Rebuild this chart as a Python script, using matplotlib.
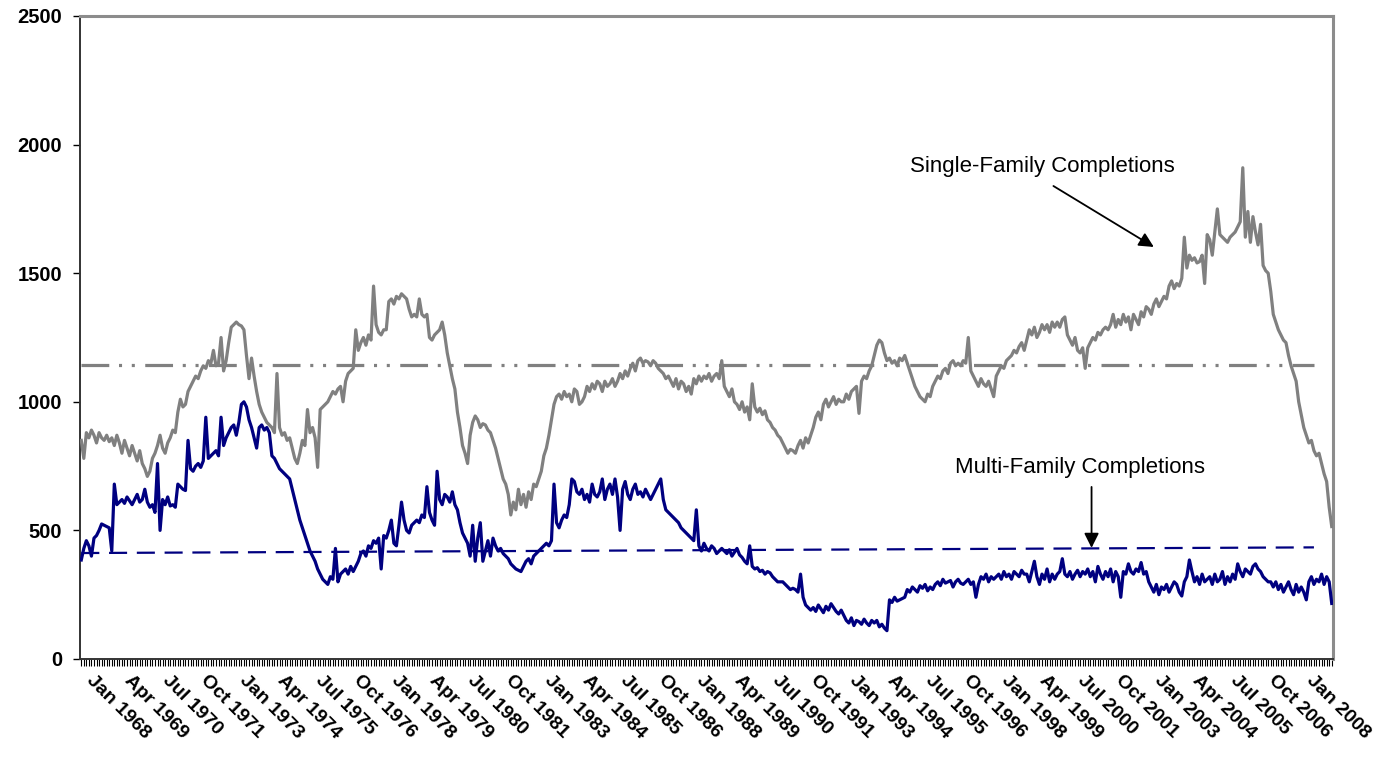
import matplotlib
matplotlib.use("Agg")
import matplotlib.pyplot as plt
import matplotlib.transforms as mtransforms
import numpy as np

plt.rcParams['font.family'] = ['Liberation Sans', 'DejaVu Sans']
plt.rcParams['lines.scale_dashes'] = False

# Monthly completions (thousands, SAAR), Jan 1968 .. Jan 2009 (one row per year)
single_family = [
    850, 780, 880, 860, 890, 870, 840, 880, 860, 850, 870, 845,        # 1968
    860, 830, 870, 840, 800, 850, 820, 790, 830, 800, 770, 810,        # 1969
    760, 740, 710, 730, 780, 800, 830, 870, 820, 800, 840, 860,        # 1970
    890, 880, 960, 1010, 980, 990, 1040, 1060, 1080, 1100, 1090, 1120, # 1971
    1140, 1130, 1160, 1150, 1200, 1140, 1150, 1250, 1120, 1160, 1230, 1290,  # 1972
    1300, 1310, 1300, 1295, 1280, 1180, 1090, 1170, 1100, 1040, 990, 960,    # 1973
    940, 920, 910, 900, 880, 1110, 900, 870, 880, 850, 860, 820,       # 1974
    780, 760, 800, 850, 830, 970, 880, 900, 860, 745, 970, 980,        # 1975
    990, 1000, 1020, 1040, 1030, 1050, 1060, 1000, 1080, 1110, 1120, 1130,   # 1976
    1280, 1200, 1230, 1250, 1220, 1260, 1240, 1450, 1300, 1270, 1260, 1280,  # 1977
    1280, 1390, 1400, 1380, 1410, 1400, 1420, 1410, 1400, 1360, 1330, 1340,  # 1978
    1330, 1400, 1340, 1330, 1340, 1250, 1240, 1260, 1270, 1280, 1310, 1260,  # 1979
    1190, 1140, 1090, 1050, 960, 900, 830, 800, 760, 870, 920, 945,    # 1980
    930, 900, 915, 910, 890, 880, 850, 820, 780, 740, 700, 680,        # 1981
    640, 560, 610, 580, 660, 600, 640, 590, 650, 620, 680, 670,        # 1982
    700, 730, 790, 820, 870, 930, 990, 1020, 1030, 1010, 1040, 1020,   # 1983
    1030, 1000, 1050, 1040, 990, 1000, 1020, 1060, 1040, 1070, 1050, 1080,   # 1984
    1070, 1040, 1080, 1060, 1070, 1090, 1060, 1080, 1110, 1090, 1120, 1100,  # 1985
    1130, 1150, 1120, 1160, 1170, 1150, 1160, 1155, 1140, 1160, 1150, 1130,  # 1986
    1120, 1110, 1090, 1100, 1080, 1060, 1090, 1050, 1080, 1070, 1040, 1060,  # 1987
    1030, 1090, 1070, 1100, 1080, 1100, 1090, 1110, 1080, 1100, 1110, 1090,  # 1988
    1160, 1060, 1040, 1020, 1050, 1000, 990, 970, 1000, 960, 980, 930,       # 1989
    1070, 980, 960, 975, 950, 965, 930, 920, 900, 890, 870, 860,       # 1990
    840, 820, 800, 815, 810, 800, 830, 850, 820, 860, 840, 870,        # 1991
    900, 940, 960, 930, 990, 1010, 980, 1000, 1020, 990, 1010, 1000,   # 1992
    1000, 1030, 1010, 1040, 1050, 1060, 955, 1080, 1100, 1090, 1120, 1140,   # 1993
    1180, 1220, 1240, 1230, 1190, 1160, 1170, 1150, 1160, 1140, 1170, 1160,  # 1994
    1180, 1150, 1120, 1090, 1060, 1040, 1020, 1010, 1000, 1030, 1020, 1060,  # 1995
    1080, 1100, 1090, 1120, 1130, 1110, 1150, 1160, 1140, 1150, 1140, 1160,  # 1996
    1150, 1250, 1120, 1100, 1080, 1060, 1090, 1070, 1060, 1080, 1050, 1020,  # 1997
    1100, 1120, 1140, 1130, 1160, 1170, 1180, 1200, 1190, 1215, 1230, 1200,  # 1998
    1240, 1280, 1260, 1290, 1250, 1270, 1300, 1280, 1300, 1270, 1310, 1290,  # 1999
    1310, 1290, 1320, 1330, 1260, 1240, 1220, 1250, 1200, 1190, 1210, 1130,  # 2000
    1210, 1230, 1250, 1240, 1270, 1260, 1280, 1290, 1280, 1300, 1340, 1290,  # 2001
    1320, 1300, 1340, 1310, 1330, 1280, 1340, 1320, 1300, 1350, 1330, 1370,  # 2002
    1360, 1340, 1380, 1400, 1370, 1390, 1410, 1400, 1450, 1470, 1440, 1460,  # 2003
    1450, 1480, 1640, 1520, 1570, 1550, 1560, 1540, 1545, 1570, 1460, 1650,  # 2004
    1630, 1570, 1660, 1750, 1650, 1640, 1630, 1620, 1640, 1650, 1660, 1680,  # 2005
    1700, 1910, 1640, 1740, 1620, 1720, 1660, 1610, 1690, 1530, 1510, 1500,  # 2006
    1430, 1340, 1310, 1280, 1260, 1240, 1230, 1180, 1140, 1110, 1080, 1000,  # 2007
    950, 900, 870, 840, 850, 810, 790, 800, 760, 720, 690, 590,        # 2008
    515,                                                               # Jan 2009
]

multi_family = [
    385, 430, 460, 440, 400, 470, 480, 500, 525, 520, 515, 510,        # 1968
    420, 680, 600, 610, 620, 605, 630, 615, 600, 620, 640, 610,        # 1969
    620, 660, 610, 590, 600, 570, 760, 500, 620, 600, 630, 595,        # 1970
    600, 590, 680, 670, 660, 655, 850, 740, 730, 750, 760, 745,        # 1971
    770, 940, 780, 790, 800, 810, 790, 940, 830, 860, 880, 900,        # 1972
    910, 870, 920, 990, 1000, 980, 930, 900, 860, 820, 900, 910,       # 1973
    890, 900, 880, 790, 780, 760, 740, 730, 720, 710, 700, 660,        # 1974
    620, 580, 540, 510, 480, 450, 420, 400, 380, 350, 330, 310,        # 1975
    300, 290, 320, 310, 430, 300, 330, 340, 350, 330, 360, 340,        # 1976
    360, 380, 410, 420, 400, 440, 430, 460, 450, 470, 350, 480,        # 1977
    470, 500, 540, 450, 440, 520, 610, 540, 500, 490, 520, 530,        # 1978
    540, 530, 560, 550, 670, 570, 540, 520, 730, 620, 600, 640,        # 1979
    630, 610, 650, 600, 580, 530, 490, 470, 450, 400, 520, 380,        # 1980
    470, 530, 380, 420, 460, 400, 470, 440, 420, 430, 410, 400,        # 1981
    390, 370, 360, 350, 345, 340, 360, 380, 390, 370, 400, 410,        # 1982
    420, 430, 440, 450, 440, 460, 680, 530, 510, 540, 560, 550,        # 1983
    600, 700, 690, 650, 640, 660, 620, 640, 610, 680, 640, 630,        # 1984
    650, 700, 620, 660, 680, 640, 700, 630, 500, 660, 690, 640,        # 1985
    620, 660, 680, 640, 650, 630, 660, 640, 620, 640, 660, 680,        # 1986
    700, 620, 580, 570, 560, 550, 540, 530, 510, 500, 490, 480,        # 1987
    470, 460, 580, 440, 420, 450, 430, 420, 440, 430, 410, 420,        # 1988
    430, 420, 410, 425, 400, 415, 430, 405, 395, 380, 370, 440,        # 1989
    360, 350, 355, 340, 345, 330, 340, 335, 320, 310, 300, 300,        # 1990
    300, 290, 280, 270, 275, 270, 260, 330, 240, 210, 200, 190,        # 1991
    200, 185, 210, 195, 180, 205, 190, 215, 200, 185, 175, 190,        # 1992
    170, 150, 140, 160, 130, 150, 145, 135, 155, 140, 130, 150,        # 1993
    140, 150, 125, 135, 120, 110, 230, 220, 240, 225, 230, 235,        # 1994
    240, 270, 260, 280, 270, 260, 285, 275, 290, 265, 280, 270,        # 1995
    290, 300, 285, 310, 295, 300, 305, 280, 300, 310, 295, 290,        # 1996
    300, 310, 290, 300, 240, 290, 320, 310, 330, 300, 320, 310,        # 1997
    320, 330, 310, 340, 320, 330, 310, 340, 330, 320, 345, 330,        # 1998
    330, 300, 340, 380, 320, 290, 330, 310, 350, 300, 330, 310,        # 1999
    330, 340, 390, 330, 320, 340, 310, 330, 345, 320, 340, 330,        # 2000
    350, 320, 340, 300, 360, 330, 310, 340, 320, 350, 300, 340,        # 2001
    320, 240, 340, 330, 370, 340, 330, 350, 340, 375, 330, 340,        # 2002
    300, 280, 260, 290, 250, 280, 270, 290, 260, 280, 300, 290,        # 2003
    260, 245, 300, 320, 385, 340, 300, 320, 290, 330, 300, 310,        # 2004
    320, 290, 330, 300, 310, 340, 290, 320, 300, 330, 310, 370,        # 2005
    340, 320, 350, 340, 330, 360, 370, 350, 340, 320, 310, 300,        # 2006
    300, 280, 300, 270, 290, 260, 280, 300, 270, 250, 290, 260,        # 2007
    280, 260, 230, 300, 320, 290, 310, 300, 330, 290, 320, 300,        # 2008
    216,                                                               # Jan 2009
]

# Reference lines (start value, end value)
sf_average = [1143, 1143]
mf_average = [412, 434]

tick_labels = [
    "Jan 1968", "Apr 1969", "Jul 1970", "Oct 1971", "Jan 1973", "Apr 1974",
    "Jul 1975", "Oct 1976", "Jan 1978", "Apr 1979", "Jul 1980", "Oct 1981",
    "Jan 1983", "Apr 1984", "Jul 1985", "Oct 1986", "Jan 1988", "Apr 1989",
    "Jul 1990", "Oct 1991", "Jan 1993", "Apr 1994", "Jul 1995", "Oct 1996",
    "Jan 1998", "Apr 1999", "Jul 2000", "Oct 2001", "Jan 2003", "Apr 2004",
    "Jul 2005", "Oct 2006", "Jan 2008",
]

n = len(single_family)
x = np.arange(n)

fig = plt.figure(figsize=(13.8, 7.67), dpi=100)
ax = fig.add_axes([80/1380, 1 - 659/767, (1333-80)/1380, (659-16)/767])

GRAY = '#808080'
NAVY = '#000080'

ax.plot(x, single_family, color=GRAY, lw=2.3, solid_joinstyle='round', zorder=3)
ax.plot(x, multi_family, color=NAVY, lw=2.3, solid_joinstyle='round', zorder=3)

line_end = 485
ax.plot([0, line_end], sf_average, color=GRAY, lw=2.3,
        linestyle=(0, (20, 7, 2.2, 7, 2.2, 7.5)), zorder=2)
ax.plot([0, line_end], mf_average, color=NAVY, lw=1.6,
        linestyle=(0, (13, 7)), zorder=2)

ax.set_xlim(-0.5, n - 0.5)
ax.set_ylim(0, 2500)
ax.set_yticks(np.arange(0, 2501, 500))

major_pos = np.arange(0, 15 * len(tick_labels), 15)
ax.set_xticks(major_pos)
ax.set_xticks(np.arange(0, n), minor=True)
ax.set_xticklabels([])

# Rotated category labels placed explicitly (start of text near its tick)
label_tf = ax.get_xaxis_transform() + mtransforms.ScaledTranslation(
    14/100, -13/100, fig.dpi_scale_trans)
for pos, lab in zip(major_pos, tick_labels):
    ax.text(pos, 0, lab, transform=label_tf, rotation=-45, ha='left', va='top',
            rotation_mode='anchor', fontsize=14, fontweight='bold', clip_on=False)

for lab in ax.get_yticklabels():
    lab.set_fontsize(14.5)
    lab.set_fontweight('bold')

ax.tick_params(axis='x', which='both', direction='out', length=5, width=0.8,
               color='black', pad=2)
ax.tick_params(axis='y', which='major', direction='out', length=5, width=1,
               color='black', pad=8)

for side in ['top', 'right']:
    ax.spines[side].set_color('#8c8c8c')
    ax.spines[side].set_linewidth(2.2)
for side in ['left', 'bottom']:
    ax.spines[side].set_color('#333333')
    ax.spines[side].set_linewidth(1.4)

# Annotations
ax.text(378, 1913, 'Single-Family Completions', ha='center', va='center',
        fontsize=16)
ax.annotate('', xy=(422, 1602), xytext=(382.5, 1839),
            arrowprops=dict(arrowstyle='-|>', color='black', lw=1.3,
                            mutation_scale=22, shrinkA=0, shrinkB=0))
ax.text(392.8, 746, 'Multi-Family Completions', ha='center', va='center',
        fontsize=16)
ax.annotate('', xy=(397.5, 432), xytext=(397.5, 669),
            arrowprops=dict(arrowstyle='-|>', color='black', lw=1.3,
                            mutation_scale=22, shrinkA=0, shrinkB=0))

fig.savefig('out.png', dpi=100)
